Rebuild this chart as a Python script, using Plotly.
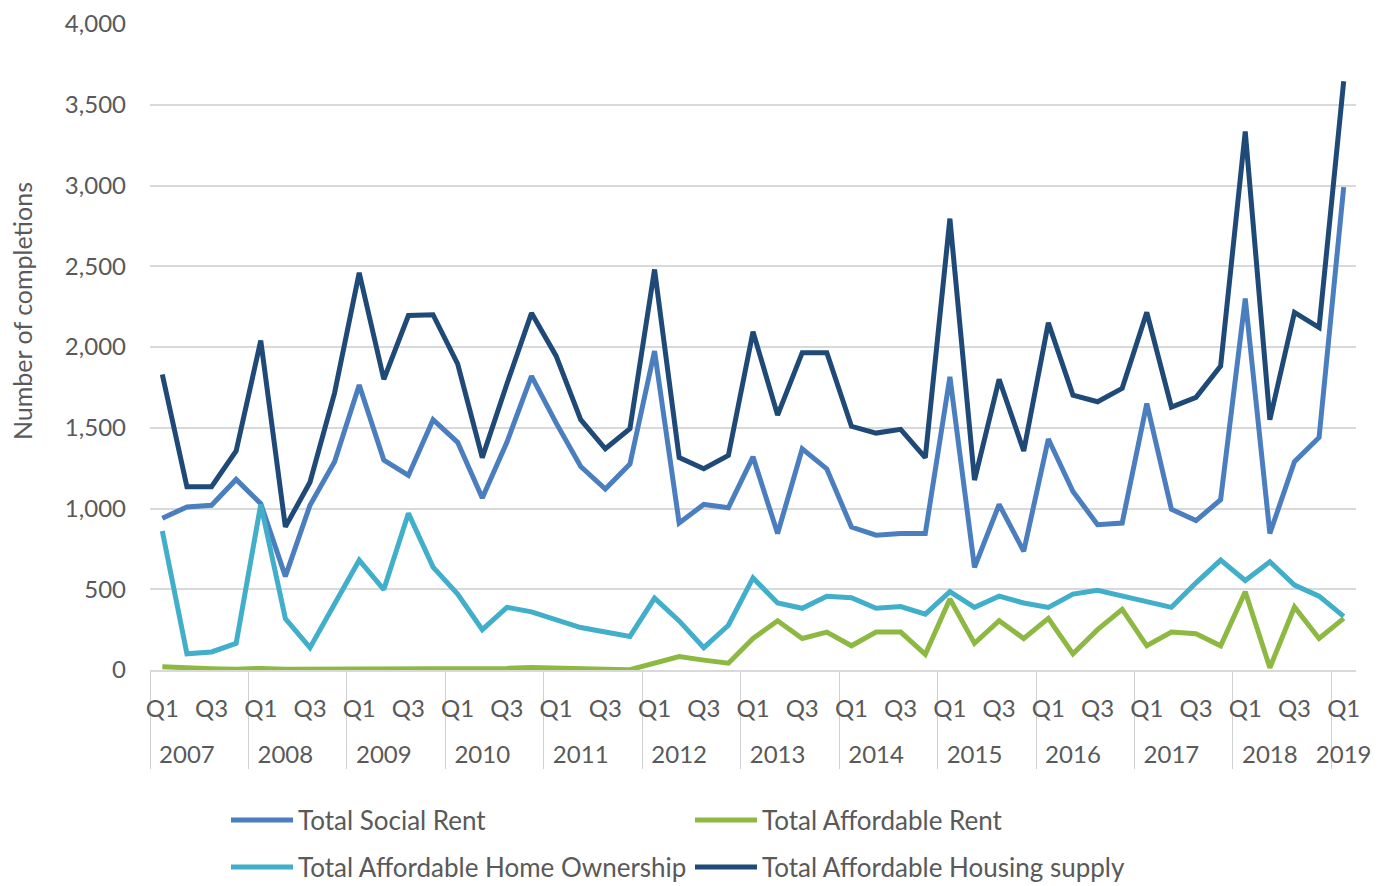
import plotly.graph_objects as go

# --- data ---
years = [str(y) for y in range(2007, 2019) for _ in range(4)] + ["2019"]
quarters = ["Q1", "Q2", "Q3", "Q4"] * 12 + ["Q1"]

social_rent = [940, 1010, 1020, 1180, 1030, 580, 1020, 1290, 1765, 1300, 1205, 1550, 1410, 1065, 1410, 1820,
               1530, 1260, 1120, 1275, 1975, 910, 1025, 1005, 1320, 845, 1370, 1245, 885, 835, 845, 845,
               1815, 635, 1025, 735, 1430, 1105, 900, 910, 1650, 995, 925, 1055, 2300, 845, 1290, 1440,
               2990]
affordable_rent = [20, 12, 8, 5, 10, 5, 5, 5, 5, 8, 12, 10, 12, 5, 10, 15,
                   14, 8, 5, 2, 42, 83, 61, 42, 195, 305, 195, 235, 150, 235, 235, 97,
                   440, 165, 305, 195, 320, 100, 250, 375, 150, 235, 225, 150, 485, 14, 390, 195,
                   320]
home_ownership = [860, 100, 112, 165, 1025, 318, 138, 415, 680, 498, 970, 637, 470, 250, 388, 360,
                  310, 263, 235, 208, 445, 304, 138, 277, 570, 415, 382, 457, 448, 382, 393, 346,
                  485, 388, 457, 415, 388, 470, 493, 457, 429, 388, 540, 680, 554, 670, 526, 457,
                  332]
housing_supply = [1830, 1135, 1135, 1356, 2040, 886, 1163, 1716, 2460, 1800, 2195, 2200, 1896, 1315, 1771, 2210,
                  1945, 1550, 1370, 1495, 2480, 1315, 1246, 1329, 2095, 1578, 1965, 1965, 1509, 1467, 1490, 1315,
                  2795, 1176, 1800, 1356, 2150, 1702, 1661, 1744, 2215, 1628, 1688, 1882, 3335, 1550, 2214, 2120,
                  3645]

# only Q1 and Q3 are labelled; Q2/Q4 get blank (but distinct) labels
q_labels = {"Q1": "Q1", "Q2": " ", "Q3": "Q3", "Q4": "  "}
x = [["<br>" + y for y in years], [q_labels[q] for q in quarters]]

series = [
    ("Total Social Rent", social_rent, "#4A7EBF", "legend"),
    ("Total Affordable Rent", affordable_rent, "#8DB943", "legend"),
    ("Total Affordable Home Ownership", home_ownership, "#41AECA", "legend2"),
    ("Total Affordable Housing supply", housing_supply, "#1F4A78", "legend2"),
]

fig = go.Figure()
for name, vals, col, leg in series:
    fig.add_trace(go.Scatter(x=x, y=vals, name=name, mode="lines", legend=leg,
                             line=dict(color=col, width=5)))

grey = "#595959"
W, H = 1383, 878  # page body has an 8px margin
leg_common = dict(orientation="h", xref="container", yref="container",
                  xanchor="left", yanchor="middle", entrywidth=387, itemwidth=62,
                  font=dict(size=26, color=grey), bgcolor="rgba(0,0,0,0)")
fig.update_layout(
    width=W, height=H,
    plot_bgcolor="white", paper_bgcolor="white",
    font=dict(family="Lato, Open Sans, sans-serif", size=24, color=grey),
    margin=dict(l=142, r=35, t=16, b=216),
    legend=dict(leg_common, x=218 / W, y=1 - 812 / H),
    legend2=dict(leg_common, x=218 / W, y=1 - 859 / H),
    showlegend=True,
)
fig.update_yaxes(range=[0, 4000], dtick=500, tickformat=",", showgrid=True, automargin=False,
                 gridcolor="#D9D9D9", gridwidth=1.5, zeroline=False,
                 ticks="", ticklabelstandoff=23, tickfont=dict(size=24, color=grey))
fig.update_xaxes(type="multicategory", range=[-0.5, 48.5], showline=True, linecolor="#D9D9D9", linewidth=1.5,
                 automargin=False, showgrid=False, showdividers=True, dividercolor="#D0D0D0", dividerwidth=1,
                 ticks="", ticklabelstandoff=16, tickfont=dict(size=24, color=grey), tickangle=0)

# axis title placed as in the reference (not centred on the plot)
fig.add_annotation(text="Number of completions", textangle=-90, showarrow=False,
                   xref="paper", yref="paper", x=(14 - 142) / 1206, y=(662 - 303) / 646,
                   xanchor="center", yanchor="middle",
                   font=dict(size=25, color=grey))

fig.write_html("out.html")
